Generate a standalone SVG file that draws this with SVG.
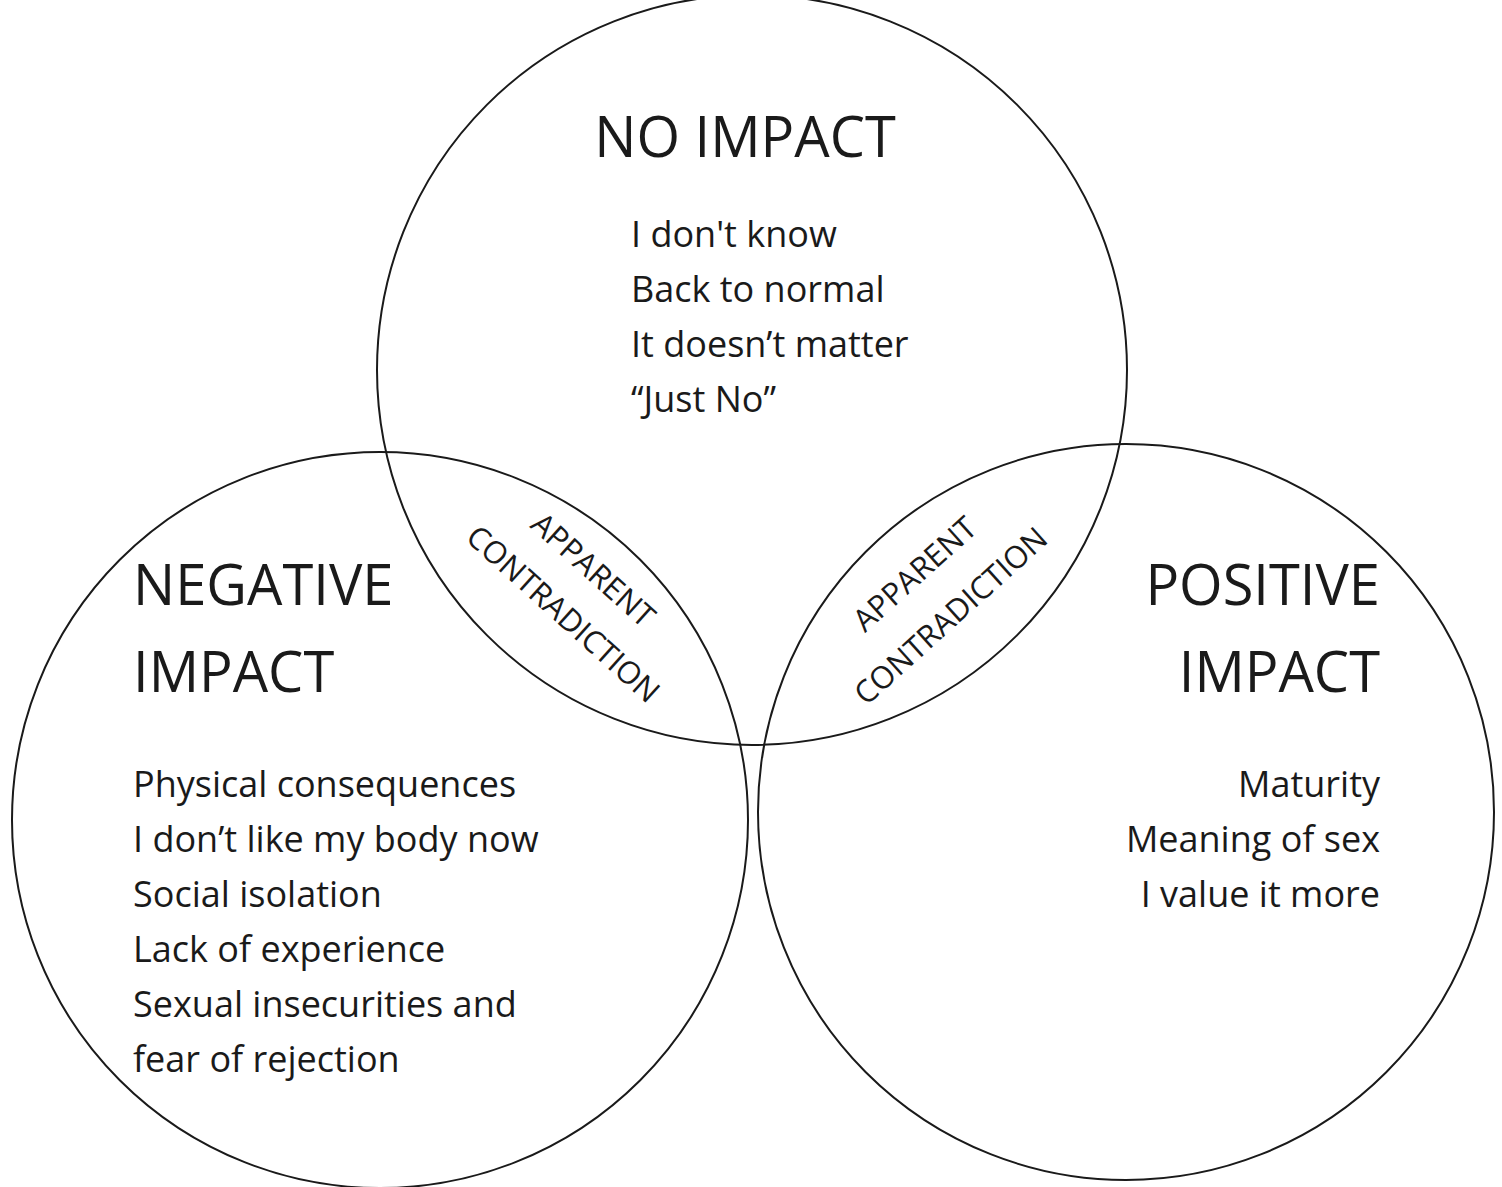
<svg xmlns="http://www.w3.org/2000/svg" width="1502" height="1187" viewBox="0 0 1502 1187">
<style>
.c{fill:none;stroke:#1a1a1a;stroke-width:2}
text{font-family:"Open Sans","Liberation Sans",sans-serif;fill:#1a1a1a}
.h{font-size:56px}
.t{font-size:36px}
.r{font-size:31px;text-anchor:middle}
</style>
<rect width="1502" height="1187" fill="#fff"/>
<g id="connectors"></g>
<g id="no-impact">
<circle class="c" cx="752" cy="370" r="375"/>
<text class="h" x="745" y="157" text-anchor="middle">NO IMPACT</text>
<text class="t" x="631" y="247">I don't know</text>
<text class="t" x="631" y="302">Back to normal</text>
<text class="t" x="631" y="357">It doesn’t matter</text>
<text class="t" x="631" y="412">“Just No”</text>
</g>
<g id="negative-impact">
<circle class="c" cx="380" cy="820" r="368"/>
<text class="h" x="133" y="605">NEGATIVE</text>
<text class="h" x="133" y="692">IMPACT</text>
<text class="t" x="133" y="797">Physical consequences</text>
<text class="t" x="133" y="852">I don’t like my body now</text>
<text class="t" x="133" y="907">Social isolation</text>
<text class="t" x="133" y="962">Lack of experience</text>
<text class="t" x="133" y="1017">Sexual insecurities and</text>
<text class="t" x="133" y="1072">fear of rejection</text>
</g>
<g id="positive-impact">
<circle class="c" cx="1126" cy="812" r="368"/>
<text class="h" x="1380" y="605" text-anchor="end">POSITIVE</text>
<text class="h" x="1380" y="692" text-anchor="end">IMPACT</text>
<text class="t" x="1380" y="797" text-anchor="end">Maturity</text>
<text class="t" x="1380" y="852" text-anchor="end">Meaning of sex</text>
<text class="t" x="1380" y="907" text-anchor="end">I value it more</text>
</g>
<g id="left-overlap">
<text class="r" transform="translate(586,578) rotate(42)">APPARENT</text>
<text class="r" transform="translate(556,622) rotate(42)">CONTRADICTION</text>
</g>
<g id="right-overlap">
<text class="r" transform="translate(922,582) rotate(-42)">APPARENT</text>
<text class="r" transform="translate(958,624) rotate(-42)">CONTRADICTION</text>
</g>
</svg>
